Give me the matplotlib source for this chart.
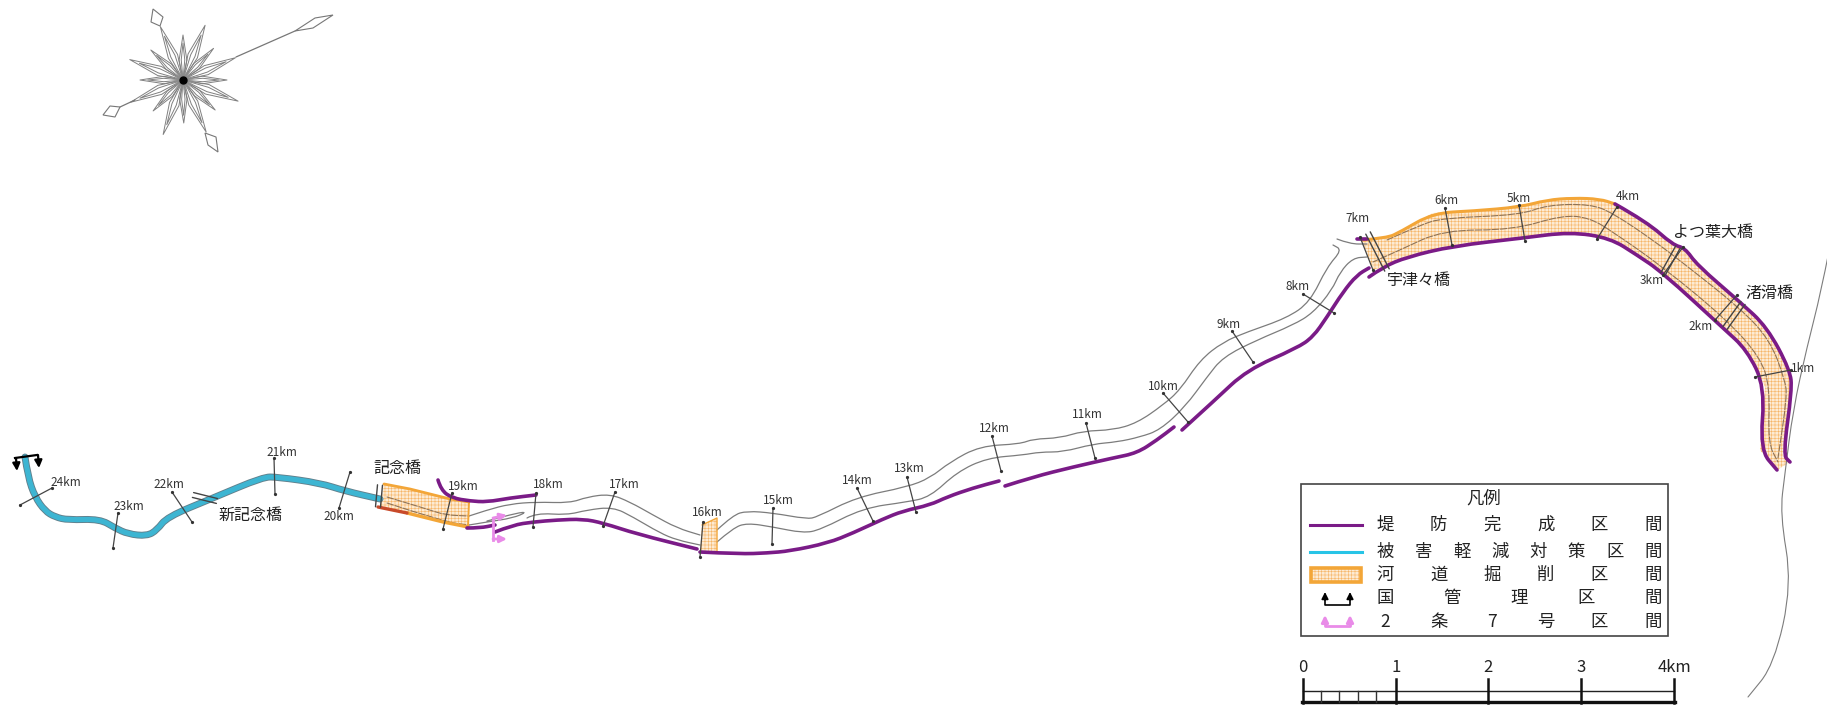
import numpy as np
import matplotlib
matplotlib.use("Agg")
import matplotlib.pyplot as plt
from matplotlib.patches import Polygon, Rectangle, PathPatch
from matplotlib.path import Path

plt.rcParams['font.family'] = ['Noto Sans CJK JP', 'DejaVu Sans']
plt.rcParams['hatch.linewidth'] = 0.4

# map coordinates of the river (x, y as they sit on the sheet)
blue_river = [(25,457),(28,477),(35,497),(45,511),(55,517),(68,520),(100,519),(115,528),(128,534),(147,536),
              (157,530),(167,517),(213,498),(263,477),(277,477),(320,483),(345,491),(380,499)]

bank_19km_top = [(438,480),(441,490),(452,498),(470,501),(487,502),(510,498),(536,495)]
bank_19km_low = [(467,528),(480,528),(495,525)]
bank_17km = [(495,532),(513,525),(533,522),(557,520),(583,519),(603,523),(637,534),(697,549)]
bank_15km = [(700,552),(740,554),(767,553),(790,551),(828,543),(853,533),(883,519),(903,511),(930,505),(947,497),(973,488),(999,481)]
bank_11km = [(1005,486),(1033,477),(1073,467),(1113,458),(1137,453),(1157,440),(1174,427)]
bank_9km = [(1182,430),(1215,400),(1247,370),(1297,348),(1313,337),(1327,317),(1343,292),(1357,275),(1369,268)]
bank_stub = [(1357,239),(1367,239)]
bank_right_low = [(1369,277),(1383,267),(1407,257),(1453,246),(1523,238),(1570,232),(1610,238),(1637,255),(1662,272),
                  (1723,328),(1747,350),(1765,387),(1760,450),(1777,470)]
bank_right_top = [(1615,204),(1647,222),(1673,245),(1685,248),(1697,265),(1740,302),(1767,327),(1790,370),(1792,390),(1783,455),(1790,462)]
purple_banks = [bank_19km_top, bank_19km_low, bank_17km, bank_15km, bank_11km, bank_9km, bank_stub, bank_right_low, bank_right_top]

river_a = [(469,516),(487,510),(510,504),(536,502),(570,503),(587,497),(610,494),(630,502),(653,515),(677,528),(700,535)]
river_b = [(469,525),(487,522),(513,518),(527,512),(517,513),(487,521)]
river_c = [(527,518),(536,513),(567,515),(587,510),(613,507),(633,517),(660,533),(677,540),(700,545)]
river_d = [(717,530),(733,515),(747,511),(773,513),(807,519),(817,517),(857,497),(907,487),(930,478),(950,462),(980,446),
           (1020,444),(1033,439),(1060,438),(1083,431),(1113,430),(1137,423),(1163,405),(1180,390),(1200,360),(1223,342),
           (1247,332),(1287,318),(1310,302),(1327,267),(1342,250),(1333,245)]
river_e = [(717,542),(733,528),(747,523),(773,527),(803,533),(820,530),(863,508),(907,502),(930,497),(957,472),(987,458),
           (1023,455),(1040,452),(1063,452),(1093,444),(1117,442),(1140,437),(1160,430),(1185,407),(1207,377),(1223,357),
           (1257,340),(1293,325),(1313,313),(1332,290),(1340,272),(1353,258),(1367,257)]
river_f = [(1337,239),(1350,244),(1367,244)]
gray_lines = [river_a, river_b, river_c, river_d, river_e, river_f]

coast = [(1829,251),(1821,292),(1807,347),(1793,410),(1785,473),(1780,514),(1792,584),(1774,665),(1748,697)]

# lines inside the dredged parts
inner_lines = [
    [(387,497),(427,509),(445,515),(469,516)],
    [(387,503),(445,522),(469,525)],
    [(1387,240),(1420,225),(1443,218),(1520,215),(1547,205),(1590,204),(1613,213),(1657,243),(1683,263),(1740,308),
     (1770,340),(1785,380),(1787,397),(1778,458)],
    [(1373,262),(1400,250),(1443,230),(1513,230),(1563,215),(1590,218),(1613,232),(1663,267),(1727,320),(1760,357),
     (1770,387),(1768,443),(1778,462)],
]

dredge_1 = [(384,484),(410,489),(450,499),(469,502),(468,527),(443,522),(407,513),(380,507)]
dredge_2 = [(702,525),(717,518),(717,552),(700,552)]
dredge_3 = [(1362,240),(1387,238),(1400,232),(1433,213),(1473,211),(1520,207),(1547,200),(1573,198),(1600,199),(1615,204),
            (1647,222),(1673,245),(1685,248),(1697,265),(1740,302),(1767,327),(1790,370),(1792,390),(1783,455),(1790,462),
            (1777,470),(1760,450),(1765,387),(1747,350),(1723,328),(1662,272),(1637,255),(1610,238),(1570,232),(1523,238),
            (1453,246),(1407,257),(1383,267),(1373,270)]

# km posts: name, label position, two ends of the tick
km_names = ["1km","2km","3km","4km","5km","6km","7km","8km","9km","10km","11km","12km",
            "13km","14km","15km","16km","17km","18km","19km","20km","21km","22km","23km","24km"]
km_labels = [(1803,369),(1701,327),(1652,281),(1628,197),(1519,198),(1446,201),(1358,218),(1298,287),(1229,324),(1163,387),
             (1087,415),(994,429),(909,468),(857,481),(778,501),(707,512),(624,484),(548,484),(463,486),(339,517),
             (282,452),(169,484),(129,506),(66,483)]
km_ticks = [((1755,377),(1791,370)),((1737,295),(1715,320)),((1683,247),(1663,275)),((1617,207),(1597,239)),
            ((1519,205),(1525,241)),((1445,208),(1452,245)),((1360,237),(1373,270)),((1303,294),(1334,313)),
            ((1232,331),(1253,362)),((1163,393),(1188,422)),((1086,423),(1095,458)),((992,436),(1001,471)),
            ((907,477),(916,512)),((857,488),(873,521)),((773,508),(772,544)),((703,522),(700,557)),
            ((615,492),(603,526)),((536,493),(533,527)),((452,493),(443,529)),((339,508),(350,472)),
            ((274,458),(275,494)),((172,492),(192,522)),((118,513),(113,548)),((52,488),(20,505))]

bridge_names = ["新記念橋","記念橋","宇津々橋","よつ葉大橋","渚滑橋"]
bridge_labels = [(251,515),(397,469),(1419,281),(1713,232),(1769,293)]
bridge_marks = [((193,495),(217,501)),((380,485),(378,507)),((1368,233),(1387,270)),((1678,247),(1663,274)),((1743,303),(1725,328))]

# compass
tip_angles = [90,68,46,23,0,-21,-43,-66,-89,-110,-134,-157,180,159,137,113]
tip_radius = [45,59,44,57,44,59,44,57,43,58,43,57,43,57,44,58]
compass_kites = [[(295,31),(315,18),(333,15),(313,28)],
                 [(160,26),(151,22),(153,9),(163,17)],
                 [(120,107),(110,106),(103,115),(115,117)],
                 [(205,133),(216,137),(218,152),(208,145)]]
compass_lines = [((236,57),(295,31)),((135,100),(120,107))]

# legend
legend_title = "凡例"
legend_rows = ["堤防完成区間","被害軽減対策区間","河道掘削区間","国管理区間","2条7号区間"]
legend_y = [525,552,575,598,622]

scale_labels = ["0","1","2","3","4km"]
scale_major = [1303,1396,1488,1581,1674]
scale_minor = [1321,1339,1358,1376]

purple = '#7a1b87'
orange = '#f3a638'
gray = '#7c7c7c'
blue = '#3db5d2'
pink = '#e98be8'

fig = plt.figure(figsize=(18.27,7.07), dpi=100)
ax = fig.add_axes([0,0,1,1])
ax.set_xlim(0,1827)
ax.set_ylim(707,0)
ax.axis('off')

def line(ax, pts, **kw):
    xs = [p[0] for p in pts]
    ys = [p[1] for p in pts]
    ax.plot(xs, ys, solid_capstyle='round', solid_joinstyle='round', **kw)

def curve(ax, pts, color, lw, ls='-', zorder=2):
    # rounds the corners, the listed points stay as control points
    verts = [pts[0]]
    codes = [Path.MOVETO]
    for i in range(1, len(pts)-1):
        m = ((pts[i][0]+pts[i+1][0])/2, (pts[i][1]+pts[i+1][1])/2)
        verts += [pts[i], m]
        codes += [Path.CURVE3, Path.CURVE3]
    verts.append(pts[-1])
    codes.append(Path.LINETO)
    ax.add_patch(PathPatch(Path(verts, codes), fill=False, edgecolor=color, lw=lw, ls=ls,
                           capstyle='round', joinstyle='round', zorder=zorder))

for d in [dredge_1, dredge_2, dredge_3]:
    ax.add_patch(Polygon(d, closed=True, facecolor='#fdebd3', edgecolor='#f6b566', hatch='+++++', lw=0, zorder=1))

line(ax, dredge_2, color=orange, lw=1.0, zorder=3)

for l in gray_lines:
    curve(ax, l, gray, 0.9)
curve(ax, coast, gray, 0.8)
for l in inner_lines:
    curve(ax, l, '#8f7356', 0.8, ls=(0,(6,1.5)))

curve(ax, blue_river, '#62808c', 5.0, zorder=3)
curve(ax, blue_river, blue, 3.7, zorder=3)

# orange and red edges of the dredged parts
line(ax, dredge_1[:4], color=orange, lw=2, zorder=3)
line(ax, [dredge_1[3],dredge_1[4]], color=orange, lw=1.4, zorder=3)
line(ax, [(468,527),(443,522),(407,513)], color=orange, lw=2.4, zorder=3)
line(ax, [(407,513),(378,507)], color='#c84a2a', lw=2.4, zorder=3)
curve(ax, dredge_3[:10], orange, 2.2, zorder=3)

for l in purple_banks:
    curve(ax, l, purple, 2.6, zorder=4)

# km ticks and labels
for name, lab, tick in zip(km_names, km_labels, km_ticks):
    line(ax, tick, color='#444444', lw=0.9, zorder=5)
    ax.plot([tick[0][0],tick[1][0]], [tick[0][1],tick[1][1]], ls='none', marker='o', ms=1.3, color='#333333', zorder=5)
    ax.text(lab[0], lab[1], name, fontsize=8.5, ha='center', va='center', color='#333333', zorder=6)

# bridges
for name, lab, m in zip(bridge_names, bridge_labels, bridge_marks):
    a = np.array(m[0], float)
    b = np.array(m[1], float)
    v = b - a
    n = np.array([-v[1], v[0]]) / np.hypot(v[0], v[1])
    line(ax, [a+n*2.5, b+n*2.5], color='#444444', lw=1.0, zorder=5)
    line(ax, [a-n*2.5, b-n*2.5], color='#444444', lw=1.0, zorder=5)
    ax.text(lab[0], lab[1], name, fontsize=11.5, ha='center', va='center', color='#222222', zorder=6)

# arrows at the upstream end (black) and the 2-7 section (pink)
ax.plot([15,37],[458,455], color='black', lw=1.6, zorder=6)
for x0, y0, y1 in [(16,458,471),(38,455,468)]:
    ax.annotate('', xy=(x0+1,y1), xytext=(x0,y0), zorder=6,
                arrowprops=dict(arrowstyle='-|>', color='black', lw=1.6, mutation_scale=11, shrinkA=0, shrinkB=0))
ax.plot([493,493],[518,540], color=pink, lw=2, zorder=6)
for y0, y1 in [(518,515),(539,539)]:
    ax.annotate('', xy=(507,y1), xytext=(493,y0), zorder=6,
                arrowprops=dict(arrowstyle='-|>', color=pink, lw=2, mutation_scale=10, shrinkA=0, shrinkB=0))

# compass, every spike has an outer and an inner outline
cx, cy = 183, 80
for ang, r in zip(tip_angles, tip_radius):
    t = np.deg2rad(ang)
    for scale, w in [(1.0, 11.0), (0.82, 5.0)]:
        wr = np.deg2rad(w)
        rr = r*scale
        pts = [(cx, cy),
               (cx+r*0.45*np.cos(t-wr), cy-r*0.45*np.sin(t-wr)),
               (cx+rr*np.cos(t), cy-rr*np.sin(t)),
               (cx+r*0.45*np.cos(t+wr), cy-r*0.45*np.sin(t+wr)),
               (cx, cy)]
        line(ax, pts, color='#808080', lw=0.7, zorder=2)
ax.plot([cx],[cy], marker='o', ms=13, color='#999999', alpha=0.45, mew=0, zorder=3)
ax.plot([cx],[cy], marker='o', ms=5, color='black', zorder=3)
for k in compass_kites:
    ax.add_patch(Polygon(k, closed=True, facecolor='white', edgecolor='#777777', lw=0.8, zorder=3))
for c in compass_lines:
    line(ax, c, color='#777777', lw=0.9, zorder=2)

# legend box
ax.add_patch(Rectangle((1301,484), 367, 152, facecolor='white', edgecolor='#444444', lw=1.2, zorder=7))
ax.text(1484,499, legend_title, fontsize=12.5, ha='center', va='center', color='#222222', zorder=8)
for row, y in zip(legend_rows, legend_y):
    xs = np.linspace(1385,1653,len(row))
    for ch, x in zip(row, xs):
        ax.text(x, y, ch, fontsize=12.5, ha='center', va='center', color='#222222', zorder=8)

ax.plot([1310,1362],[legend_y[0],legend_y[0]], color=purple, lw=2.2, zorder=8)
ax.plot([1310,1362],[legend_y[1],legend_y[1]], color='#27c4e6', lw=2.2, zorder=8)
ax.add_patch(Rectangle((1311,568), 50, 14, facecolor='#fdebd3', edgecolor='#f6b566', hatch='+++++', lw=0, zorder=8))
ax.add_patch(Rectangle((1311,568), 50, 14, fill=False, edgecolor=orange, lw=2.6, zorder=8))

def bracket(ax, y0, y1, col, lw):
    ax.plot([1325,1325,1350,1350],[y0+3,y1,y1,y0+3], color=col, lw=lw, zorder=8)
    for x in [1325,1350]:
        ax.annotate('', xy=(x,y0-3), xytext=(x,y0+5), zorder=8,
                    arrowprops=dict(arrowstyle='-|>', color=col, lw=lw, mutation_scale=10, shrinkA=0, shrinkB=0))

bracket(ax, 595, 605, 'black', 1.2)
bracket(ax, 618, 626, pink, 2.0)

# scale bar
ax.plot([scale_major[0],scale_major[-1]],[691,691], color='#222222', lw=1.0)
ax.plot([scale_major[0]-1,scale_major[-1]+1],[702,702], color='#111111', lw=2.4)
for x in scale_major:
    ax.plot([x,x],[679,703], color='#111111', lw=1.8)
for x in scale_minor:
    ax.plot([x,x],[691,702], color='#333333', lw=1.0)
for s, x in zip(scale_labels, scale_major):
    ax.text(x, 667, s, fontsize=12, ha='center', va='center', color='#222222')

fig.savefig('out.png', dpi=100)
